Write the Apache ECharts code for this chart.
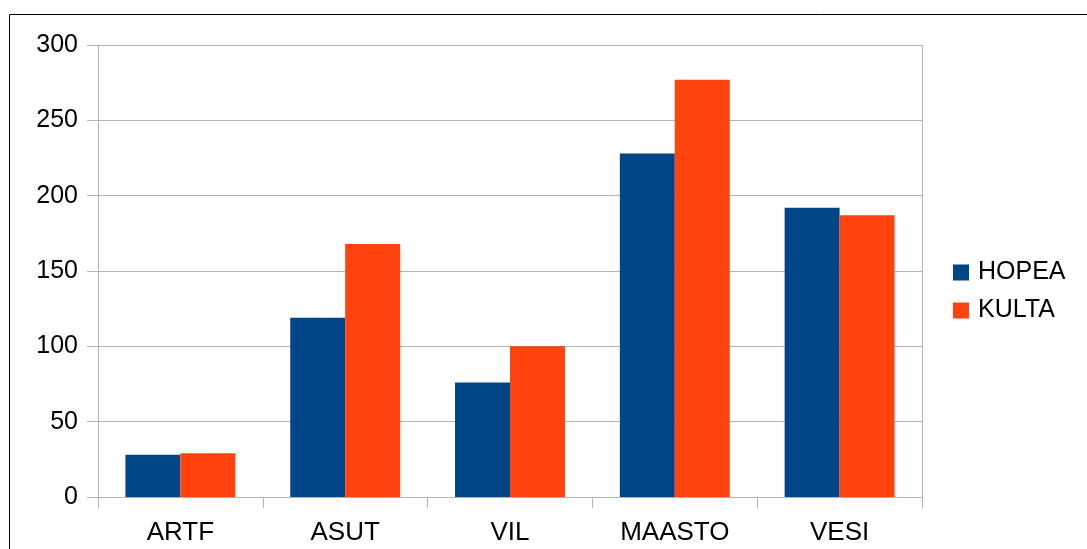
<!DOCTYPE html>
<html>
<head>
<meta charset="utf-8">
<style>
  html, body { margin: 0; padding: 0; background: #fff; }
  #chart { width: 1087px; height: 549px; }
</style>
<script src="https://cdn.jsdelivr.net/npm/echarts@6/dist/echarts.min.js"></script>
</head>
<body>
<div id="chart"></div>
<script>
// data
const categories = ['ARTF', 'ASUT', 'VIL', 'MAASTO', 'VESI'];
const hopea = [28, 119, 76, 228, 192];
const kulta = [29, 168, 100, 277, 187];

const chart = echarts.init(document.getElementById('chart'));
const font = 'Liberation Sans, Arial, sans-serif';

const option = {
  animation: false,
  textStyle: { fontFamily: font },
  graphic: [{
    type: 'rect',
    shape: { x: 9.5, y: 14.5, width: 1200, height: 700 },
    style: { fill: 'none', stroke: '#000', lineWidth: 1 },
    silent: true
  }, {
    // right border of plot area
    type: 'line',
    shape: { x1: 922.5, y1: 45, x2: 922.5, y2: 497 },
    style: { stroke: '#b3b3b3', lineWidth: 1 },
    silent: true
  }],
  legend: {
    orient: 'vertical',
    left: 953,
    top: 260,
    padding: 0,
    itemWidth: 16,
    itemHeight: 16,
    itemGap: 13,
    icon: 'rect',
    textStyle: { fontSize: 25, lineHeight: 25, color: '#000', fontFamily: font, padding: [0, 0, 0, 4] },
    data: ['HOPEA', 'KULTA']
  },
  grid: { left: 98, right: 1087 - 922, top: 45, bottom: 549 - 497, containLabel: false },
  xAxis: {
    type: 'category',
    data: categories,
    axisLine: { lineStyle: { color: '#b3b3b3', width: 1 } },
    axisTick: { show: true, length: 11, lineStyle: { color: '#b3b3b3' } },
    axisLabel: { fontSize: 26, color: '#000', margin: 23, fontFamily: font },
    splitLine: { show: false }
  },
  yAxis: {
    type: 'value',
    min: 0,
    max: 300,
    interval: 50,
    axisLine: { show: true, lineStyle: { color: '#b3b3b3' } },
    axisTick: { show: true, length: 11, lineStyle: { color: '#b3b3b3' } },
    axisLabel: { fontSize: 25, color: '#000', margin: 20, fontFamily: font },
    splitLine: { lineStyle: { color: '#b3b3b3', width: 1 } }
  },
  series: [
    {
      name: 'HOPEA',
      type: 'bar',
      data: hopea,
      barGap: '0%',
      barCategoryGap: '33.3%',
      itemStyle: { color: '#004586' }
    },
    {
      name: 'KULTA',
      type: 'bar',
      data: kulta,
      itemStyle: { color: '#ff420e' }
    }
  ]
};

chart.setOption(option);
</script>
</body>
</html>
